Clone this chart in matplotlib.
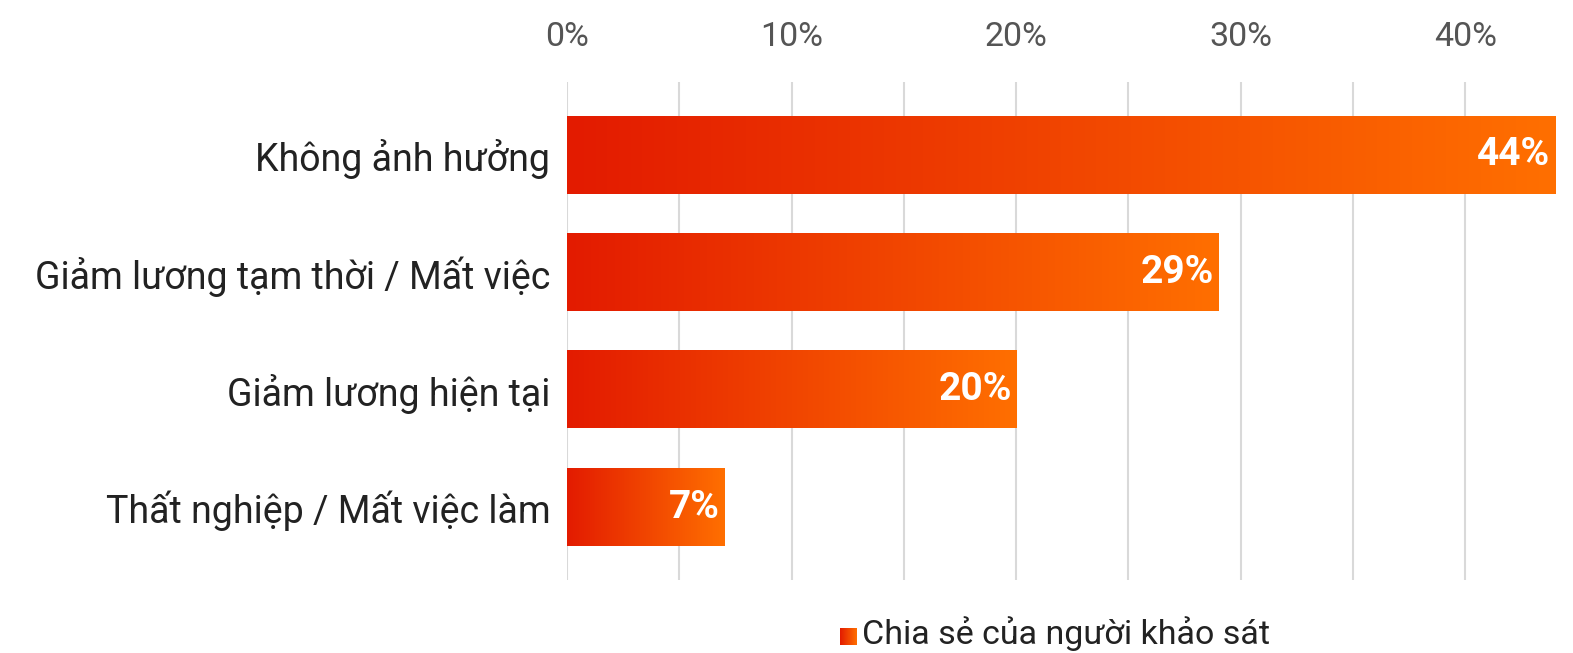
import matplotlib.pyplot as plt
import numpy as np
from matplotlib.colors import LinearSegmentedColormap

plt.rcParams['font.family'] = ['Roboto', 'DejaVu Sans']

# du lieu
nhan = ["Không ảnh hưởng", "Giảm lương tạm thời / Mất việc",
        "Giảm lương hiện tại", "Thất nghiệp / Mất việc làm"]
gia_tri = [44, 29, 20, 7]
ticks_chinh = [0, 10, 20, 30, 40]
ticks_phu = [5, 15, 25, 35]
ten_chuoi = "Chia sẻ của người khảo sát"

cmap = LinearSegmentedColormap.from_list("do_cam", ["#e31b00", "#ff6f00"])
grad = np.linspace(0, 1, 256).reshape(1, -1)

fig = plt.figure(figsize=(15.73, 6.53), dpi=100)
ax = fig.add_axes([0.3605, 0.1118, 0.9886 - 0.3605, 0.8744 - 0.1118])

y = np.arange(len(nhan))
bars = ax.barh(y, gia_tri, height=0.66, color='none', zorder=2)
for b, v in zip(bars, gia_tri):
    x0, y0, w, h = b.get_x(), b.get_y(), b.get_width(), b.get_height()
    ax.imshow(grad, cmap=cmap, aspect='auto', extent=(x0, x0 + w, y0 + h, y0),
              zorder=3, interpolation='bicubic')
    ax.text(x0 + w - 0.2, y0 + h / 2, f"{v}%", ha='right', va='center',
            color='white', fontsize=28, fontweight='bold', zorder=4)

ax.set_xlim(0, 44)
ax.set_ylim(3.62, -0.62)
ax.set_yticks(y)
ax.set_yticklabels(nhan, fontsize=27, color='#222222')
ax.set_xticks(ticks_chinh)
ax.set_xticklabels([f"{t}%" for t in ticks_chinh], fontsize=24.5, color='#555555')
ax.set_xticks(ticks_phu, minor=True)
ax.xaxis.tick_top()
ax.tick_params(axis='x', which='both', length=0, pad=21)
ax.tick_params(axis='y', length=0, pad=12)
ax.grid(axis='x', which='both', color='#d9d9d9', lw=1.5, zorder=1)
ax.set_axisbelow(True)
for s in ax.spines.values():
    s.set_visible(False)

# chu thich
lax = fig.add_axes([840 / 1573, 1 - 645 / 653, 16 / 1573, 17 / 653])
lax.imshow(grad, cmap=cmap, aspect='auto', extent=(0, 1, 0, 1),
           interpolation='bicubic')
lax.set_xlim(0, 1)
lax.set_ylim(0, 1)
lax.axis('off')
fig.text(862 / 1573, 1 - 634 / 653, ten_chuoi, fontsize=24.5, color='#222222',
         ha='left', va='center')

fig.savefig("out.png", dpi=100)
